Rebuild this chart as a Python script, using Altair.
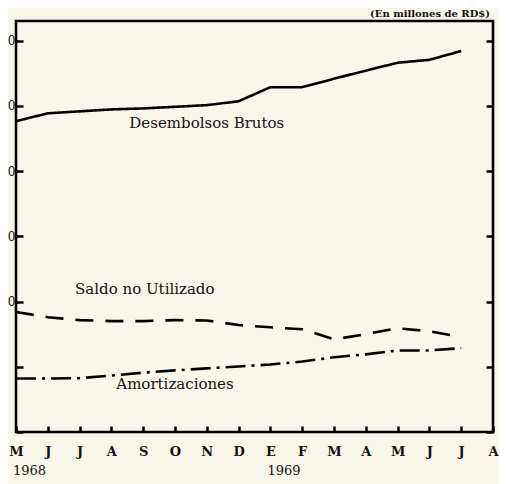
import altair as alt
import pandas as pd

# Month tick labels (May 1968 .. Aug 1969)
months = ["M", "J", "J", "A", "S", "O", "N", "D", "E", "F", "M", "A", "M", "J", "J", "A"]
month_idx = list(range(len(months)))

# Series values (millions RD$), one per month May-68 .. Jul-69
desembolsos = [95.3, 97.7, 98.3, 98.9, 99.2, 99.7, 100.2, 101.4, 105.7, 105.7, 108.3, 110.8, 113.2, 114.1, 116.8]
saldo = [36.8, 35.2, 34.3, 34.0, 34.0, 34.3, 34.2, 32.8, 32.1, 31.5, 28.4, 30.0, 31.8, 30.9, 29.1]
amortizaciones = [16.4, 16.4, 16.5, 17.3, 18.2, 18.9, 19.5, 20.1, 20.7, 21.6, 22.9, 23.8, 25.0, 25.0, 25.7]

series_names = ["Desembolsos Brutos", "Saldo no Utilizado", "Amortizaciones"]
y_ticks = [0, 20, 40, 60, 80, 100, 120]

# Inline labels
label_text = ["Desembolsos Brutos", "Saldo no Utilizado", "Amortizaciones"]
label_x = [6.0, 4.05, 5.0]
label_y = [94.6, 43.9, 14.6]

years = ["1968", "1969"]
years_x = [0, 8]

rows = []
for name, vals in zip(series_names, [desembolsos, saldo, amortizaciones]):
    for i, v in enumerate(vals):
        rows.append({"serie": name, "i": i, "v": v})
df = pd.DataFrame(rows)
labels_df = pd.DataFrame({"label": label_text, "x": label_x, "y": label_y})
years_df = pd.DataFrame({"year": years, "x": years_x})

FONT = "DejaVu Serif"
month_expr = "[" + ",".join("'%s'" % m for m in months) + "][datum.value]"

x_scale = alt.Scale(domain=[0, 15], nice=False, zero=False)
y_scale = alt.Scale(domain=[0, 126], nice=False)


def x_axis():
    return alt.Axis(
        values=month_idx, labelExpr=month_expr, offset=-6, tickSize=6, tickWidth=2.5,
        tickColor="black", domain=False, grid=False, title=None, labelFont=FONT,
        labelFontSize=13, labelFontWeight="bold", labelColor="#111", labelPadding=13,
        labelFlush=False, labelOverlap=False, labelBound=False, labelSeparation=0,
    )


lines = alt.Chart(df).mark_line(color="black", strokeWidth=2.6).encode(
    x=alt.X("i:Q", scale=x_scale, axis=x_axis()),
    y=alt.Y("v:Q", scale=y_scale, axis=alt.Axis(
        values=y_ticks, orient="left", offset=-7, tickSize=7, tickWidth=2.5,
        tickColor="black", domain=False, grid=False, title=None,
        labelExpr="datum.value >= 40 ? '0' : ''", labelFont=FONT, labelFontSize=12,
        labelColor="#111", labelPadding=1)),
    strokeDash=alt.StrokeDash("serie:N", scale=alt.Scale(
        domain=series_names, range=[[1, 0], [18, 12], [20, 6, 3, 6]]), legend=None),
    detail="serie:N",
)

texts = alt.Chart(labels_df).mark_text(font=FONT, fontSize=15, color="#111").encode(
    x=alt.X("x:Q", scale=x_scale, axis=x_axis()),
    y=alt.Y("y:Q", scale=y_scale, axis=alt.Axis(
        values=y_ticks, orient="right", offset=-7, tickSize=7, tickWidth=2.5,
        tickColor="black", domain=False, grid=False, title=None, labels=False)),
    text="label:N",
)

year_text = alt.Chart(years_df).mark_text(
    font=FONT, fontSize=13, color="#111", align="left", dx=-3, baseline="middle"
).encode(
    x=alt.X("x:Q", scale=x_scale, axis=x_axis()),
    y=alt.value(450),
    text="year:N",
)

chart = alt.layer(lines, texts, year_text).resolve_scale(y="independent").properties(
    width=477, height=411,
    autosize=alt.AutoSizeParams(type="none"),
    padding={"left": 8, "top": 13, "right": 6, "bottom": 52},
    background="#f9f6ea",
    title=alt.TitleParams(
        "(En millones de RD$)", anchor="end", font=FONT, fontSize=10,
        fontWeight="bold", color="#111", offset=2, dx=-8),
).configure_view(stroke="black", strokeWidth=2.6, fill="#f9f6ea"
).configure_axisX(labelOverlap=False)

chart.save("out.html", embed_options={"renderer": "svg", "actions": False})
